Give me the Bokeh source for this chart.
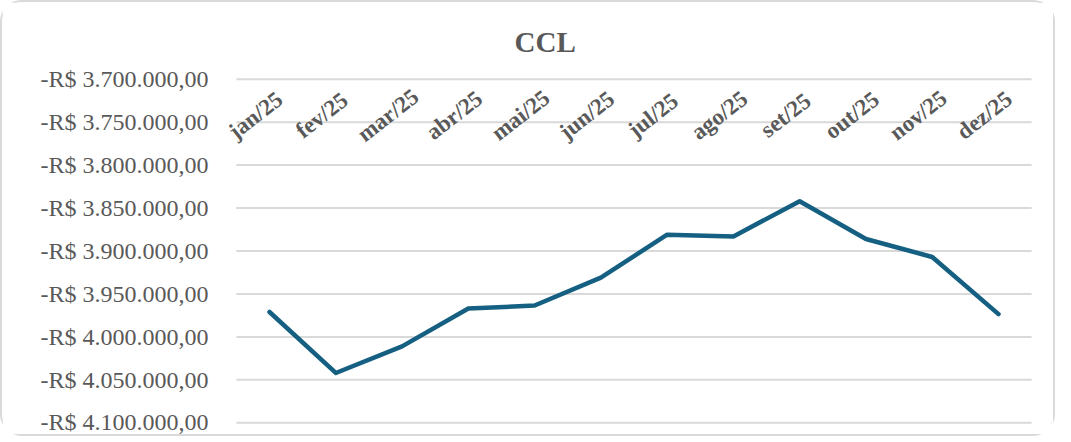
import math
from bokeh.plotting import figure
from bokeh.models import FactorRange, Range1d, FixedTicker, CustomJSTickFormatter, ColumnDataSource, LabelSet
from bokeh.embed import file_html
from bokeh.resources import INLINE

months = ["jan/25", "fev/25", "mar/25", "abr/25", "mai/25", "jun/25",
          "jul/25", "ago/25", "set/25", "out/25", "nov/25", "dez/25"]
ccl = [-3971000, -4042000, -4011000, -3967000, -3963500, -3931000,
       -3881000, -3883000, -3842000, -3886000, -3907000, -3973500]
y_ticks = [-4100000, -4050000, -4000000, -3950000, -3900000,
           -3850000, -3800000, -3750000, -3700000]
title_text = "CCL"

GREY = "#595959"

p = figure(width=1055, height=436, output_backend="svg", toolbar_location=None,
           x_range=FactorRange(*months, range_padding=0.3, range_padding_units="absolute"),
           y_range=Range1d(min(y_ticks) - 2000, max(y_ticks) + 2000),
           min_border_left=214, min_border_right=6, min_border_top=75, min_border_bottom=14)

p.title.text = title_text
p.title.align = "left"
p.title.offset = 298
p.title.text_font = "Liberation Serif"
p.title.text_font_style = "bold"
p.title.text_font_size = "29px"
p.title.text_color = GREY
p.title.standoff = 40

p.outline_line_color = None
p.background_fill_color = "white"
p.border_fill_color = "white"
p.styles = {"border": "2px solid #d9d9d9", "border-radius": "22px", "box-sizing": "border-box"}

p.xaxis.visible = False
p.xgrid.grid_line_color = None
p.ygrid.grid_line_color = None

yax = p.yaxis[0]
yax.ticker = FixedTicker(ticks=y_ticks)
yax.formatter = CustomJSTickFormatter(code="""
const v = Math.abs(Math.round(tick));
const s = v.toString().replace(/\\B(?=(\\d{3})+(?!\\d))/g, ".");
return (tick < 0 ? "-" : "") + "R$ " + s + ",00";
""")
yax.axis_line_color = None
yax.major_tick_line_color = None
yax.minor_tick_line_color = None
yax.major_label_text_font = "Liberation Serif"
yax.major_label_text_font_size = "24px"
yax.major_label_text_color = GREY
yax.major_label_standoff = 2

# horizontal gridlines spanning exactly the 12 category slots
n = len(months)
p.segment(x0=[0] * len(y_ticks), x1=[n] * len(y_ticks), y0=y_ticks, y1=y_ticks,
          line_color="#d9d9d9", line_width=2)

src = ColumnDataSource(dict(x=months, y=ccl))
p.line("x", "y", source=src, line_color="#156082", line_width=4.5, line_join="round", line_cap="round")

# category labels drawn at top, rotated (axis crosses at top in the original)
lab = ColumnDataSource(dict(x=months, y=[-3742000] * n, t=months))
labels = LabelSet(x="x", y="y", text="t", source=lab, angle=0.66, text_align="center",
                  text_baseline="middle", x_offset=-14, text_font="Liberation Serif",
                  text_font_style="bold", text_font_size="23px", text_color=GREY)
p.add_layout(labels)

open("out.html", "w").write(file_html(p, INLINE))
